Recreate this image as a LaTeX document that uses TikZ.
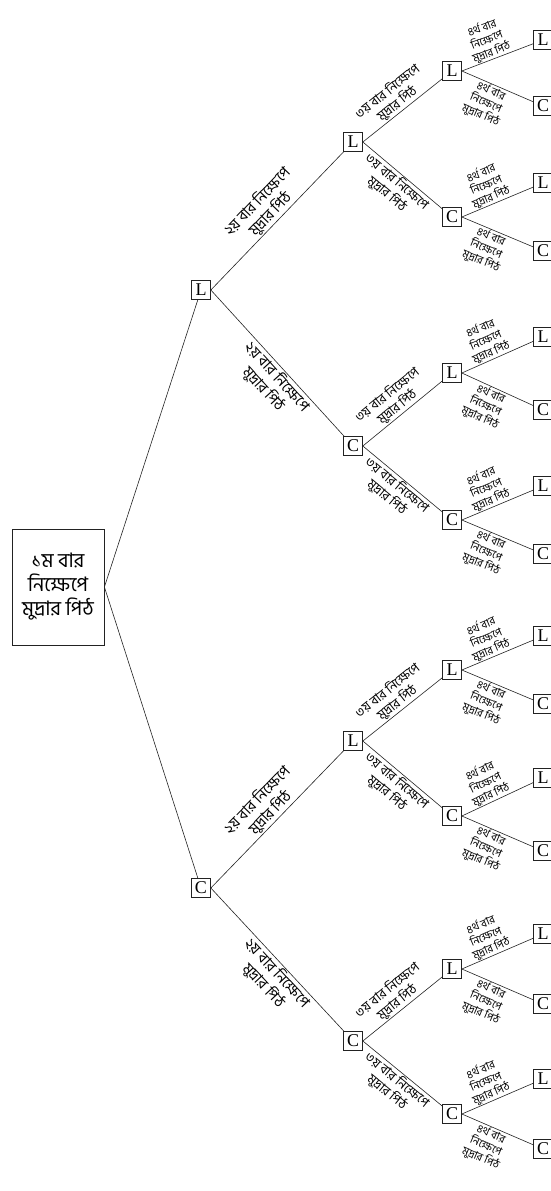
\documentclass[tikz,border=0pt]{standalone}
\usepackage{fontspec}
\setmainfont{Liberation Serif}
\newfontfamily\bnfont[Script=Bengali]{Hind Siliguri}
\usetikzlibrary{calc}
\definecolor{treeink}{HTML}{222222}
\tikzset{
  coinbox/.style={draw=treeink,rectangle,fill=white,line width=0.7pt,
    minimum width=19pt,minimum height=19pt,inner sep=0pt,
    font=\fontsize{18}{18}\selectfont},
  rootbox/.style={draw=treeink,line width=0.8pt,minimum width=92pt,
    minimum height=116pt,align=center,inner sep=2pt,
    font=\bnfont\fontsize{20}{24}\selectfont},
  treeedge/.style={draw=treeink,line width=0.6pt},
  secondlabel/.style={sloped,inner sep=1pt,align=center,
    font=\bnfont\fontsize{15}{18}\selectfont},
  thirdlabel/.style={sloped,inner sep=1pt,align=center,
    font=\bnfont\fontsize{13}{15.5}\selectfont},
  fourthlabel/.style={sloped,inner sep=0.5pt,align=center,
    font=\bnfont\fontsize{11}{13}\selectfont},
}
\begin{document}
\begin{tikzpicture}[x=1pt,y=-1pt]
  \path[use as bounding box] (0,0) rectangle (551,1191);
  % first toss
  \node[rootbox] (r) at (58,587) {১ম বার\\নিক্ষেপে\\মুদ্রার পিঠ};
  \node[coinbox] (a1) at (201,290) {L};
  \node[coinbox] (a2) at (201,888) {C};
  % second, third and fourth toss
  \foreach \i/\y/\s in {1/142/L,2/446/C,3/741/L,4/1041/C}
    {\node[coinbox] (b\i) at (353,\y) {\s};}
  \foreach \i/\y/\s in {1/71/L,2/217/C,3/373/L,4/520/C,5/670/L,6/816/C,7/969/L,8/1114/C}
    {\node[coinbox] (c\i) at (452,\y) {\s};}
  \foreach \i/\y/\s in {1/40/L,2/106/C,3/183/L,4/251/C,5/337/L,6/410/C,7/486/L,8/554/C,
      9/636/L,10/704/C,11/778/L,12/851/C,13/934/L,14/1004/C,15/1079/L,16/1149/C}
    {\node[coinbox] (d\i) at (543,\y) {\s};}
  % branches
  \foreach \i in {1,2} {\draw[treeedge] (r.east) -- (a\i);}
  \foreach \p in {1,2} {
    \pgfmathtruncatemacro\u{2*\p-1}
    \pgfmathtruncatemacro\l{2*\p}
    \draw[treeedge] (a\p.east) -- node[secondlabel,above]
      {২য় বার নিক্ষেপে\\মুদ্রার পিঠ} (b\u);
    \draw[treeedge] (a\p.east) -- node[secondlabel,below,pos=0.55]
      {২য় বার নিক্ষেপে\\মুদ্রার পিঠ} (b\l);
  }
  \foreach \p in {1,...,4} {
    \pgfmathtruncatemacro\u{2*\p-1}
    \pgfmathtruncatemacro\l{2*\p}
    \draw[treeedge] (b\p.east) -- node[thirdlabel,above]
      {৩য় বার নিক্ষেপে\\মুদ্রার পিঠ} (c\u);
    \draw[treeedge] (b\p.east) -- node[thirdlabel,below]
      {৩য় বার নিক্ষেপে\\মুদ্রার পিঠ} (c\l);
  }
  \foreach \p in {1,...,8} {
    \pgfmathtruncatemacro\u{2*\p-1}
    \pgfmathtruncatemacro\l{2*\p}
    \draw[treeedge] (c\p.east) -- node[fourthlabel,above,pos=0.45]
      {৪র্থ বার\\নিক্ষেপে\\মুদ্রার পিঠ} (d\u);
    \draw[treeedge] (c\p.east) -- node[fourthlabel,below,pos=0.45]
      {৪র্থ বার\\নিক্ষেপে\\মুদ্রার পিঠ} (d\l);
  }
\end{tikzpicture}
\end{document}
